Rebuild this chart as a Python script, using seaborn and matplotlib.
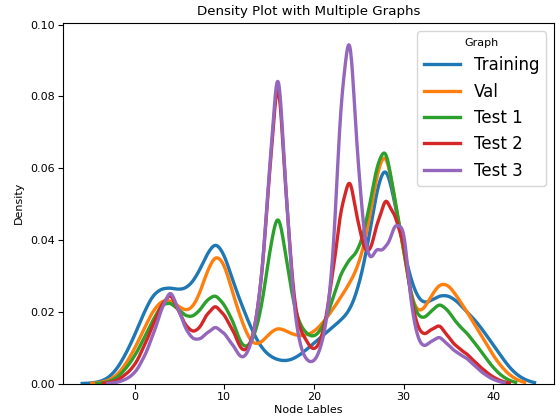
import numpy as np
import seaborn as sns
import matplotlib.pyplot as plt

# node labels and the (relative) frequency of each label per graph split
labels = np.arange(-6, 46)

training = [0, 0.0001, 0.0004, 0.0014, 0.004, 0.0085, 0.014, 0.0205, 0.026, 0.0278,
            0.028, 0.0272, 0.028, 0.0315, 0.0375, 0.042, 0.038, 0.0295, 0.0225, 0.016,
            0.0108, 0.008, 0.0068, 0.0065, 0.0075, 0.0095, 0.0118, 0.014, 0.0162, 0.0185,
            0.021, 0.028, 0.040, 0.057, 0.066, 0.053, 0.039, 0.028, 0.023, 0.024,
            0.0258, 0.0258, 0.024, 0.021, 0.0185, 0.015, 0.0112, 0.0075, 0.004, 0.0018,
            0.0006, 0]
val = [0, 0, 0.0002, 0.0007, 0.0022, 0.0055, 0.010, 0.0155, 0.021, 0.0242,
       0.0242, 0.022, 0.0205, 0.0238, 0.032, 0.038, 0.0352, 0.0255, 0.0175, 0.0112,
       0.0112, 0.0145, 0.0165, 0.015, 0.0138, 0.0138, 0.0148, 0.0175, 0.021, 0.025,
       0.029, 0.034, 0.044, 0.061, 0.070, 0.053, 0.039, 0.0215, 0.020, 0.025,
       0.0292, 0.0288, 0.025, 0.021, 0.0168, 0.0125, 0.008, 0.0045, 0.002, 0.0006,
       0, 0]
test1 = [0, 0, 0, 0.0004, 0.0015, 0.0042, 0.0078, 0.0128, 0.018, 0.023,
         0.0235, 0.021, 0.0188, 0.02, 0.024, 0.026, 0.0228, 0.018, 0.0098, 0.011,
         0.019, 0.037, 0.053, 0.034, 0.019, 0.0145, 0.013, 0.016, 0.0235, 0.032,
         0.036, 0.038, 0.048, 0.063, 0.070, 0.053, 0.039, 0.022, 0.018, 0.0205,
         0.0235, 0.021, 0.017, 0.0148, 0.0115, 0.008, 0.0045, 0.002, 0.0006, 0,
         0, 0]
test2 = [0, 0, 0, 0.0002, 0.0008, 0.0026, 0.0052, 0.0105, 0.0168, 0.023,
         0.0268, 0.0205, 0.0155, 0.015, 0.02, 0.0232, 0.02, 0.0155, 0.0088, 0.011,
         0.025, 0.059, 0.097, 0.049, 0.018, 0.013, 0.009, 0.0135, 0.030, 0.051,
         0.062, 0.045, 0.036, 0.046, 0.055, 0.049, 0.042, 0.021, 0.0137, 0.0155,
         0.0175, 0.0135, 0.0105, 0.0088, 0.0062, 0.0038, 0.0018, 0.0006, 0, 0,
         0, 0]
test3 = [0, 0, 0, 0, 0.0003, 0.0012, 0.003, 0.0075, 0.0142, 0.0225,
         0.029, 0.0215, 0.0145, 0.0128, 0.015, 0.0175, 0.0152, 0.0115, 0.0068, 0.011,
         0.026, 0.062, 0.104, 0.051, 0.0155, 0.007, 0.006, 0.012, 0.030, 0.086,
         0.112, 0.061, 0.0355, 0.041, 0.040, 0.048, 0.049, 0.019, 0.0105, 0.0125,
         0.0145, 0.0115, 0.0092, 0.0078, 0.0052, 0.0028, 0.0012, 0.0003, 0, 0,
         0, 0]

graph_names = ["Training", "Val", "Test 1", "Test 2", "Test 3"]
graph_counts = [training, val, test1, test2, test3]
colors = sns.color_palette("tab10", 5)
# where each curve starts / ends on the x axis, and its smoothing bandwidth
clips = [(-5.85, 44.6), (-4.8, 43.5), (-4.2, 42.5), (-3.5, 41.8), (-3.0, 41.2)]
bandwidths = [0.65, 0.65, 0.6, 0.55, 0.55]

plt.figure(figsize=(5.57, 4.16), dpi=100)
ax = plt.gca()

for name, counts, color, clip, bw in zip(graph_names, graph_counts, colors, clips, bandwidths):
    w = np.array(counts)
    std = np.sqrt(np.cov(labels, aweights=w))
    sns.kdeplot(x=labels, weights=w, bw_method=bw / std, clip=clip, gridsize=900,
                color=color, linewidth=2.4, label=name, ax=ax)

ax.set_xlim(-8.0, 46.8)
ax.set_ylim(0, 0.1005)
ax.set_xlabel("Node Lables", fontsize=8, labelpad=2)
ax.set_ylabel("Density", fontsize=8)
ax.set_title("Density Plot with Multiple Graphs", fontsize=9.6)
ax.tick_params(labelsize=8, pad=2.5)

leg = ax.legend(title="Graph", fontsize=12, loc="upper right", handlelength=2.2)
leg.get_title().set_fontsize(8)

plt.subplots_adjust(left=0.113, right=0.995, bottom=0.078, top=0.945)
plt.savefig("out.png", dpi=100)
